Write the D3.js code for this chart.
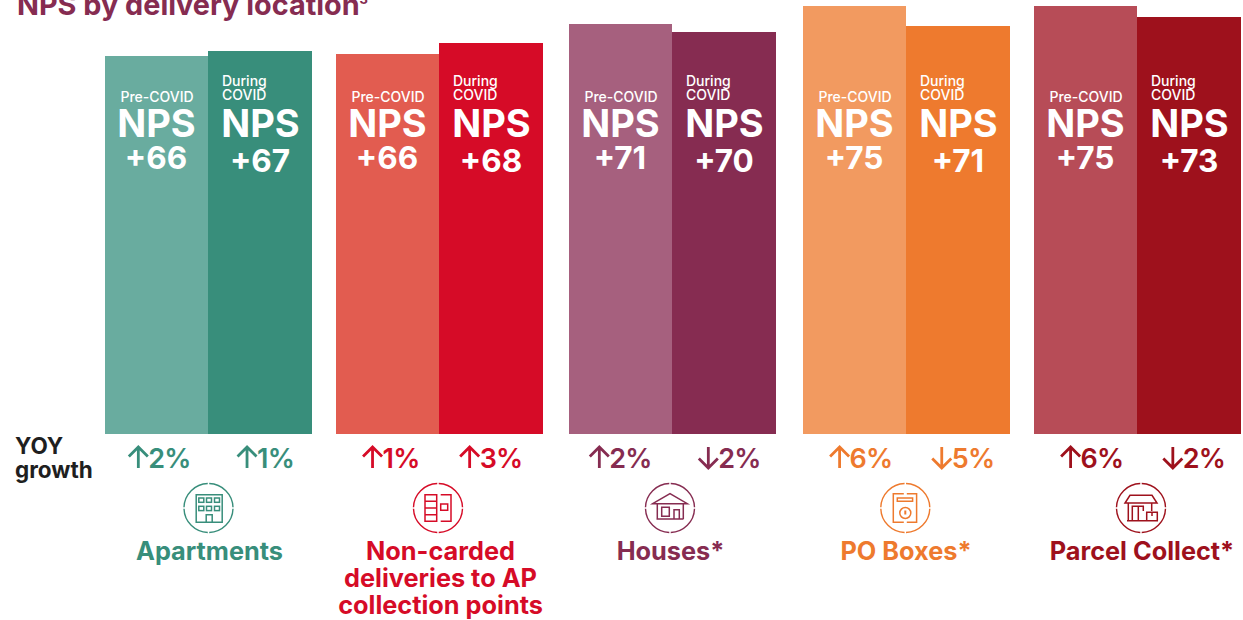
<!DOCTYPE html>
<html><head><meta charset="utf-8">
<script src="https://cdnjs.cloudflare.com/ajax/libs/d3/7.8.5/d3.min.js"></script>
<style>html,body{margin:0;padding:0;background:#fff}svg{display:block}text{font-family:Inter,"Liberation Sans",sans-serif}</style>
</head><body><svg id="c" width="1243" height="620"></svg>
<script>
const categories = ["Apartments","Non-carded deliveries to AP collection points","Houses*","PO Boxes*","Parcel Collect*"];
const periods = ["Pre-COVID","During COVID"];
const npsPre = [66,66,71,75,75];
const npsDuring = [67,68,70,71,73];
const barLevelPre = [66.2,66.6,71.8,75,75];
const barLevelDuring = [67.1,68.5,70.4,71.5,73.1];
const yoyPre = [2,1,2,6,6];
const yoyDuring = [1,3,-2,-5,-2];
const lightColours = ["#69ac9f","#e25c50","#a6607e","#f29a60","#b74c57"];
const darkColours = ["#388e7b","#d60b27","#862c51","#ee7a2e","#9e111c"];
const categoryLines = [["Apartments"],["Non-carded","deliveries to AP","collection points"],["Houses*"],["PO Boxes*"],["Parcel Collect*"]];
const iconKinds = ["apartments","lockers","house","pobox","parcel"];

const svg = d3.select("#c");
const x0 = d3.scaleOrdinal().domain(categories).range([105,336,569,803,1034]);
const x1 = d3.scaleBand().domain(periods).rangeRound([0,206]);
const y = d3.scaleLinear().domain([0,75]).range([434,6]);

// layout nudges, one per group
const yoyCentrePre = [54.5,55,51.5,58,58];
const yoyCentreDuring = [160.5,155,160.5,160,160];
const iconCentre = [103.5,102,101,102.3,107];
const labelCentre = [104.5,104.5,101.5,103,108];

const title = svg.append("text").attr("x",17).attr("y",15).attr("font-size",28.8).attr("font-weight",700).attr("fill","#862c51")
  .text("NPS by delivery location");
title.append("tspan").attr("font-size",13).attr("dy",-11).text("3");

svg.selectAll(".yy").data(["YOY","growth"]).join("text").attr("x",15).attr("y",(d,i)=>453.500+i*24)
  .attr("font-size",22.5).attr("font-weight",650).attr("fill","#1f1f1f").text(d=>d);

const arrow = (g,up,colour)=>{
  const p = up ? "M0,-21V0M-9.500,-11.500L0,-21L9.500,-11.500" : "M0,-21V0M-9.500,-9.500L0,0L9.500,-9.500";
  g.append("path").attr("d",p).attr("fill","none").attr("stroke",colour).attr("stroke-width",2.8);
};
const icons = {
  apartments(g){
    g.append("path").attr("d","M-12.300,14.300V-13.300H13.700V14.300ZM-2.300,14.300V6.700H3.700V14.300");
    [-9.700,-2,6].forEach(px=>[-10,-1.700].forEach(py=>g.append("rect").attr("x",px).attr("y",py).attr("width",5).attr("height",4.300)));
  },
  lockers(g){
    g.append("path").attr("d","M-13,-13.300H-1.300V13.300H-13ZM-13,-6.700H-1.300M-13,0H-1.300M-13,6.700H-1.300M2.700,-13.300H13V13.300H2.700M2.700,-4H9.700V2.300H2.700Z");
  },
  house(g){
    g.append("path").attr("d","M-17.300,-4.300L0,-14.300L17.300,-4.300ZM-12.700,-4.300V11M13.300,-4.300V11M-13.500,11H13.500M-8.300,-0.700H-0.700V8.300H-8.300ZM4,11V1.700H9.300V11");
  },
  pobox(g){
    g.append("path").attr("d","M-1.500,-14.300H-12V14.300H-1.500M1.500,-14.300H11.300V14.300H1.500M-8,-10H7.300V-6.700H-8Z");
    g.append("circle").attr("cy",5).attr("r",5.500);
    g.append("path").attr("d","M0,2.500V6.500").attr("stroke-width",2);
  },
  parcel(g){
    g.append("path").attr("d","M-11,-12.700H11L16,-5H-16ZM-12.700,-5V12.700M10.700,-5V3M-8.700,12.700V-1.700H2.300V3M-2.700,-1.700V12.700M-14,12.700H5M5.700,4.300H16.300V12.700H5.700ZM11,4.300V8");
  }
};

categories.forEach((cat,i)=>{
  const g = svg.append("g").attr("transform",`translate(${x0(cat)},0)`);
  const dark = darkColours[i];
  const rows = [
    {p:periods[0],lv:barLevelPre[i],nps:npsPre[i],yoy:yoyPre[i],c:lightColours[i],yc:yoyCentrePre[i]},
    {p:periods[1],lv:barLevelDuring[i],nps:npsDuring[i],yoy:yoyDuring[i],c:dark,yc:yoyCentreDuring[i]}
  ];
  rows.forEach((r,j)=>{
    const bx = x1(r.p), top = y(r.lv);
    g.append("rect").attr("x",bx).attr("y",top).attr("width",x1.bandwidth()+j).attr("height",y(0)-top).attr("fill",r.c).attr("shape-rendering","crispEdges");
  });
  rows.forEach((r,j)=>{
    const bx = x1(r.p), mid = bx + 52 + j;
    const t = (s,yy,fs,fw,xx,a)=>g.append("text").attr("x",xx).attr("y",yy).attr("font-size",fs).attr("font-weight",fw).attr("fill","#fff").attr("text-anchor",a).text(s);
    if(j===0){
      t(r.p,102,14,500,mid,"middle");
    } else {
      t("During",86,14,500,bx+14,"start");
      t("COVID",100,14,500,bx+14,"start");
    }
    t("NPS",137,38,700,mid-0.5,"middle");
    t("+"+r.nps,j?172:169,31.5,700,mid-1,"middle");
    const tx = g.append("text").attr("y",468).attr("font-size",27).attr("font-weight",600).attr("letter-spacing",-0.8).attr("fill",dark).text(Math.abs(r.yoy)+"%");
    const w = tx.node().getComputedTextLength();
    const left = r.yc - (w+20)/2;
    tx.attr("x",left+20);
    const a = g.append("g").attr("transform",`translate(${left+10},468)`);
    arrow(a,r.yoy>0,dark);
  });
  const ic = g.append("g").attr("transform",`translate(${iconCentre[i]},508)`);
  ic.append("circle").attr("r",24.5).attr("fill","none").attr("stroke",dark).attr("stroke-width",1.4)
    .attr("pathLength",100).attr("stroke-dasharray","24 1").attr("stroke-dashoffset",-0.5);
  const inner = ic.append("g").attr("fill","none").attr("stroke",dark).attr("stroke-width",1.5);
  icons[iconKinds[i]](inner);
  categoryLines[i].forEach((l,k)=>g.append("text").attr("x",labelCentre[i]).attr("y",560+k*27).attr("text-anchor","middle")
    .attr("font-size",25.3).attr("font-weight",700).attr("fill",dark).text(l));
});
</script></body></html>
